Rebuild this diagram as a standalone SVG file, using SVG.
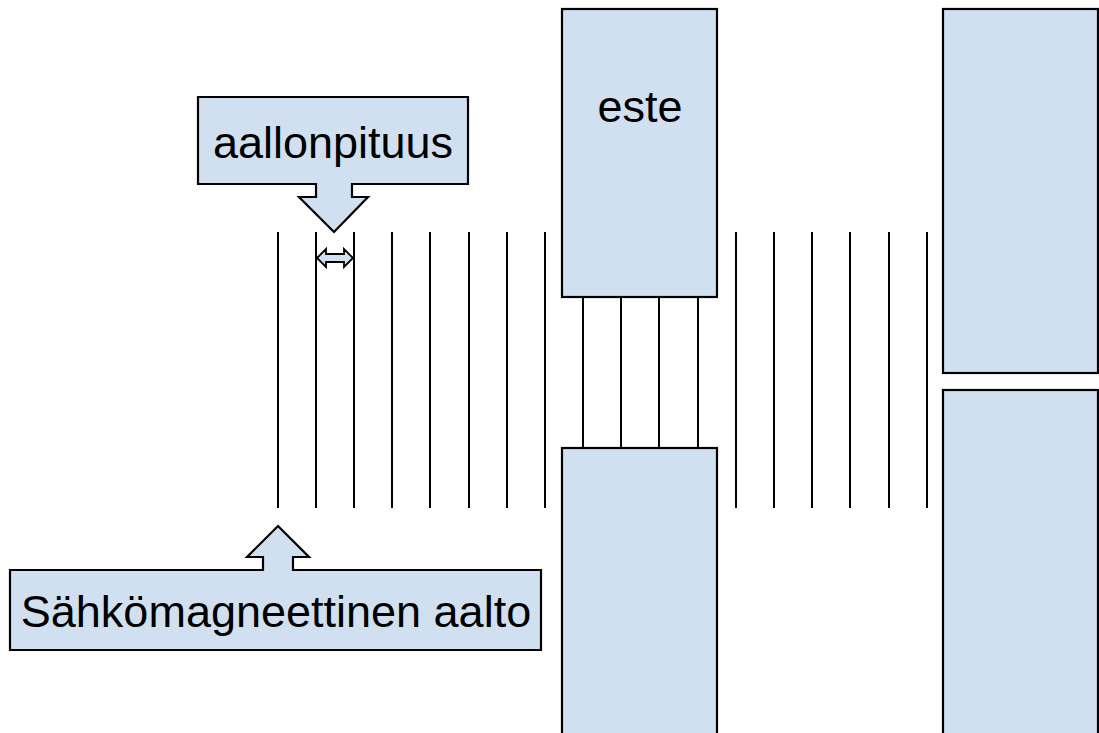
<svg xmlns="http://www.w3.org/2000/svg" width="1099" height="733" viewBox="0 0 1099 733">
<style>
.box{fill:#d0e0f0;stroke:#000;stroke-width:2.2}
.w{stroke:#000;stroke-width:2;fill:none}
.t{font-family:"Liberation Sans",Arial,sans-serif;font-size:45px;fill:#000}
</style>
<rect width="1099" height="733" fill="#fff"/>
<g id="waves" class="w">
<line x1="278" y1="232" x2="278" y2="508"/>
<line x1="316" y1="232" x2="316" y2="508"/>
<line x1="354" y1="232" x2="354" y2="508"/>
<line x1="392" y1="232" x2="392" y2="508"/>
<line x1="430" y1="232" x2="430" y2="508"/>
<line x1="469" y1="232" x2="469" y2="508"/>
<line x1="507" y1="232" x2="507" y2="508"/>
<line x1="545" y1="232" x2="545" y2="508"/>
<line x1="583" y1="297" x2="583" y2="448"/>
<line x1="621" y1="297" x2="621" y2="448"/>
<line x1="659" y1="297" x2="659" y2="448"/>
<line x1="698" y1="297" x2="698" y2="448"/>
<line x1="736" y1="232" x2="736" y2="508"/>
<line x1="774" y1="232" x2="774" y2="508"/>
<line x1="812" y1="232" x2="812" y2="508"/>
<line x1="850" y1="232" x2="850" y2="508"/>
<line x1="889" y1="232" x2="889" y2="508"/>
<line x1="927" y1="232" x2="927" y2="508"/>
</g>
<g id="este-top"><rect class="box" x="562" y="9" width="155" height="288"/><text class="t" x="640" y="122" text-anchor="middle">este</text></g>
<g id="este-bottom"><rect class="box" x="562" y="448" width="155" height="300"/></g>
<g id="wall-top"><rect class="box" x="943" y="9" width="155" height="364"/></g>
<g id="wall-bottom"><rect class="box" x="943" y="390" width="155" height="360"/></g>
<g id="wavelength-arrow"><path class="box" style="stroke-width:1.8" d="M317,258 L326,249 V254 H344 V249 L353,258 L344,267 V262 H326 V267 Z"/></g>
<g id="callout-aallonpituus"><path class="box" d="M198,97 H468 V184 H352 V197 H368 L334,232 L299,197 H316 V184 H198 Z"/><text class="t" x="333" y="158" text-anchor="middle">aallonpituus</text></g>
<g id="callout-aalto"><path class="box" d="M10,570 H263 V557 H247 L278,526 L309,557 H293 V570 H541 V650 H10 Z"/><text class="t" x="276" y="627" text-anchor="middle">Sähkömagneettinen aalto</text></g>
</svg>
